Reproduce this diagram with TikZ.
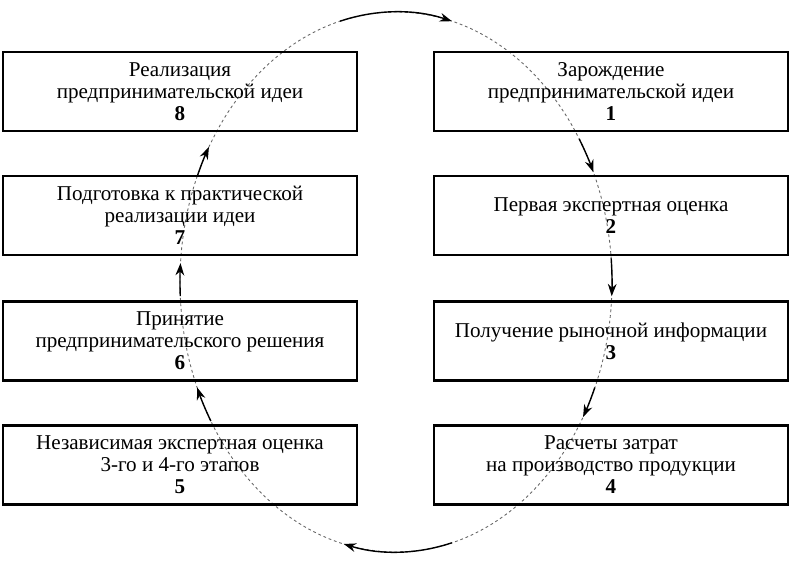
\documentclass[tikz,border=0pt]{standalone}
\usepackage{fontspec}
\setmainfont{Liberation Serif}
\usetikzlibrary{calc,arrows.meta}
\tikzset{
  stage/.style={draw, line width=1.2pt, minimum width=7.08cm, minimum height=1.58cm,
    align=center, inner sep=0pt, font=\fontsize{12}{12.5}\selectfont},
  ring/.style={draw=gray!80!black, line width=0.5pt, dash pattern=on 1.6pt off 1.6pt},
  turn/.style={->, line width=0.8pt}
}
\begin{document}
\begin{tikzpicture}[>={Stealth[length=7pt,width=5pt]}]
        \useasboundingbox (0,0) rectangle (15.84,11.32);

        \coordinate (c) at (7.92,5.68);
        \draw[ring] (c) ellipse (4.32 and 5.4);

        \node[stage] (s8) at (3.6,9.49) {Реализация\\ предпринимательской идеи\\ \textbf{8}};
        \node[stage] (s7) at (3.6,7.01) {Подготовка к практической\\ реализации идеи\\ \textbf{7}};
        \node[stage] (s6) at (3.6,4.5) {Принятие\\ предпринимательского решения\\ \textbf{6}};
        \node[stage] (s5) at (3.6,2.02) {Независимая экспертная оценка\\ 3-го и 4-го этапов\\ \textbf{5}};

        \node[stage] (s1) at (12.22,9.49) {Зарождение\\ предпринимательской идеи\\ \textbf{1}};
        \node[stage] (s2) at (12.22,7.01) {Первая экспертная оценка\\ \textbf{2}};
        \node[stage] (s3) at (12.22,4.5) {Получение рыночной информации\\ \textbf{3}};
        \node[stage] (s4) at (12.22,2.02) {Расчеты затрат\\ на производство продукции\\ \textbf{4}};

        \foreach \from/\to in {105/75, 32/24, 5/-3, -23/-30, -75/-104, 211/203, 183/176, 157/150}
          \draw[turn] ($(c)+(\from:4.32 and 5.4)$) arc[start angle=\from, end angle=\to, x radius=4.32, y radius=5.4];

        \end{tikzpicture}
\end{document}
